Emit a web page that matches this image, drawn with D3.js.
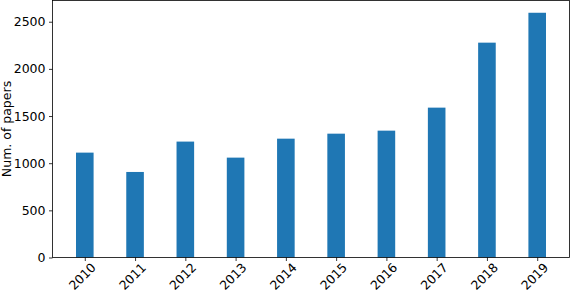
<!DOCTYPE html>
<html><head><meta charset="utf-8">
<script src="https://cdn.jsdelivr.net/npm/d3@7"></script>
<style>body{margin:0;background:#fff}text{font-family:"DejaVu Sans",sans-serif;fill:#000}</style>
</head><body><svg id="c" width="572" height="292"></svg>
<script>
const years = ["2010","2011","2012","2013","2014","2015","2016","2017","2018","2019"];
const papers = [1112, 907, 1229, 1059, 1260, 1313, 1345, 1589, 2278, 2595];
const yTicks = [0, 500, 1000, 1500, 2000, 2500];

const svg = d3.select("#c");
const L = 52.5, R = 569.5, T = 0.5, B = 257.5;
const w = 0.35;
const x = d3.scaleLinear().domain([-0.6425, years.length - 1 + 0.6425]).range([L, R]);
const y = d3.scaleLinear().domain([0, 2725]).range([B, T]);

svg.append("g").selectAll("rect").data(papers).join("rect")
  .attr("x", (d, i) => x(i - w / 2))
  .attr("width", (d, i) => x(i + w / 2) - x(i - w / 2))
  .attr("y", d => y(d))
  .attr("height", d => B - y(d))
  .attr("fill", "#1f77b4");

const yAxis = svg.append("g").attr("transform", `translate(${L},0)`)
  .call(d3.axisLeft(y).tickValues(yTicks).tickSize(3.5).tickPadding(3.5).tickFormat(d3.format("d")));
yAxis.select(".domain").remove();
yAxis.selectAll("line").attr("stroke", "#000").attr("stroke-width", 0.8);
yAxis.selectAll("text").style("font-size", "12.5px").attr("fill", "#000");

const xAxis = svg.append("g").attr("transform", `translate(0,${B})`)
  .call(d3.axisBottom(x).tickValues(d3.range(years.length)).tickSize(3.5).tickFormat(i => years[i]));
xAxis.select(".domain").remove();
xAxis.selectAll("line").attr("stroke", "#000").attr("stroke-width", 0.8);
xAxis.selectAll("text")
  .style("font-size", "12.5px")
  .attr("text-anchor", "middle")
  .attr("dy", "0.35em")
  .attr("y", 0)
  .attr("transform", "translate(-3,19) rotate(-45)");

svg.append("rect").attr("x", L).attr("y", T).attr("width", R - L).attr("height", B - T)
  .attr("fill", "none").attr("stroke", "#000").attr("stroke-width", 0.8);

svg.append("text").attr("transform", `translate(11,${(T + B) / 2}) rotate(-90)`)
  .attr("text-anchor", "middle").style("font-size", "12.5px").text("Num. of papers");
</script></body></html>
